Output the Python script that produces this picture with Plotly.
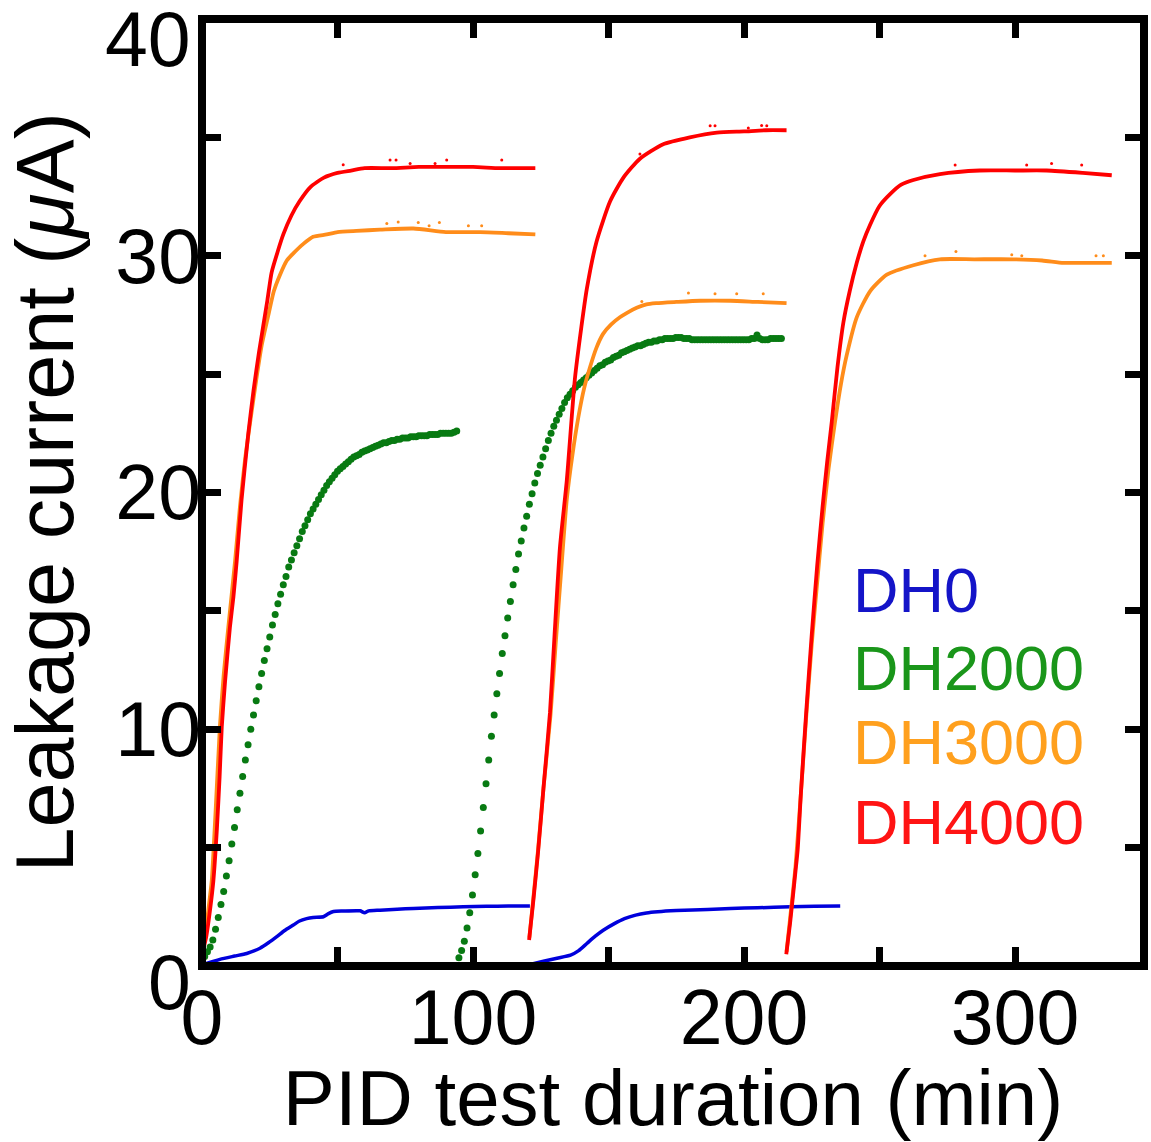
import plotly.graph_objects as go

# ---------------- data ----------------
# DH0 (blue)
dh0_x1 = [0, 6.6, 12, 16.5, 21.4, 24.5, 27.6, 30.5, 33.7, 36, 38.6, 41, 44.8, 46.5, 48.5, 52, 58.3, 60, 61.5, 65.7, 72, 78, 87, 96.4, 105, 113, 121]
dh0_y1 = [0.05, 0.28, 0.42, 0.53, 0.75, 0.98, 1.24, 1.5, 1.73, 1.9, 2.0, 2.05, 2.08, 2.2, 2.3, 2.32, 2.33, 2.25, 2.33, 2.36, 2.4, 2.43, 2.47, 2.5, 2.52, 2.53, 2.53]
dh0_x2 = [120.7, 126, 131, 136, 139, 142, 145, 148.2, 152, 155.9, 160, 164, 168.2, 175, 181, 186.6, 195, 205, 217.2, 226, 235.5]
dh0_y2 = [0.05, 0.2, 0.33, 0.46, 0.65, 0.95, 1.25, 1.52, 1.78, 2.0, 2.15, 2.24, 2.29, 2.34, 2.37, 2.39, 2.43, 2.46, 2.5, 2.52, 2.53]

# DH2000 (green dots, one reading per minute)
dh2000_t1_start = 0.0
dh2000_y1 = [0.2, 0.4, 0.6, 0.8, 1.1, 1.55, 2.05, 2.6, 3.15, 3.8,
             4.45, 5.15, 5.85, 6.6, 7.3, 8.0, 8.7, 9.35, 10.0, 10.6,
             11.2, 11.8, 12.35, 12.9, 13.4, 13.9, 14.4, 14.85, 15.3, 15.7,
             16.1, 16.45, 16.85, 17.15, 17.45, 17.75, 18.05, 18.35, 18.6, 18.85,
             19.1, 19.3, 19.5, 19.7, 19.9, 20.1, 20.3, 20.45, 20.6, 20.75,
             20.9, 21.0, 21.1, 21.2, 21.3, 21.4, 21.5, 21.55, 21.6, 21.7,
             21.75, 21.8, 21.85, 21.9, 21.95, 22.0, 22.05, 22.1, 22.1, 22.15,
             22.2, 22.2, 22.25, 22.25, 22.3, 22.3, 22.3, 22.35, 22.35, 22.35,
             22.4, 22.4, 22.4, 22.4, 22.45, 22.45, 22.45, 22.45, 22.5, 22.5,
             22.5, 22.5, 22.5, 22.55, 22.6]
dh2000_t2_start = 94.8
dh2000_y2 = [0.35, 0.65, 1.05, 1.6, 2.25, 3.0, 3.85, 4.75, 5.7, 6.7,
             7.7, 8.7, 9.7, 10.6, 11.5, 12.35, 13.2, 13.95, 14.7, 15.4,
             16.1, 16.75, 17.4, 17.95, 18.5, 19.0, 19.5, 19.95, 20.4, 20.8,
             21.15, 21.5, 21.85, 22.2, 22.5, 22.8, 23.05, 23.3, 23.55, 23.8,
             24.0, 24.15, 24.3, 24.45, 24.55, 24.65, 24.75, 24.85, 24.95, 25.05,
             25.15, 25.25, 25.35, 25.4, 25.5, 25.55, 25.6, 25.7, 25.75, 25.8,
             25.9, 25.95, 26.0, 26.05, 26.1, 26.15, 26.2, 26.2, 26.25, 26.3,
             26.35, 26.35, 26.4, 26.4, 26.45, 26.45, 26.5, 26.5, 26.5, 26.5,
             26.55, 26.55, 26.55, 26.5, 26.5, 26.5, 26.45, 26.45, 26.45, 26.45,
             26.45, 26.45, 26.45, 26.45, 26.45, 26.45, 26.45, 26.45, 26.45, 26.45,
             26.45, 26.45, 26.45, 26.45, 26.45, 26.45, 26.45, 26.45, 26.5, 26.5,
             26.65, 26.5, 26.45, 26.45, 26.45, 26.5, 26.5, 26.5, 26.5, 26.5]

# DH3000 (orange)
dh3000_x1 = [0, 1.5, 3, 3.6, 5, 6.6, 8, 9.7, 12.2, 14, 16, 18.3, 20.2, 22, 24.7, 26.5, 28.8, 31.3, 33.7, 37.4, 41, 46, 50, 57, 65.7, 78, 90, 102.6, 113, 123]
dh3000_y1 = [0.6, 1.6, 3.0, 3.6, 6.5, 10.1, 12.3, 14.3, 17.1, 19.4, 21.5, 23.4, 24.9, 26.2, 27.6, 28.5, 29.2, 29.8, 30.1, 30.5, 30.8, 30.9, 31.0, 31.05, 31.1, 31.15, 31.0, 31.0, 30.95, 30.9]
dh3000_x2 = [120.8, 122.3, 124, 126, 128.6, 130.5, 132.6, 134.6, 136.7, 138.9, 141, 143.2, 145.5, 148, 151, 154.2, 157, 160.4, 164, 167.7, 175, 183.8, 195, 205, 215.7]
dh3000_y2 = [1.2, 2.9, 4.9, 7.5, 10.6, 13.6, 16.8, 19.7, 21.6, 23.2, 24.4, 25.3, 26.1, 26.7, 27.1, 27.4, 27.6, 27.8, 27.95, 28.0, 28.05, 28.1, 28.1, 28.05, 28.0]
dh3000_x3 = [215.7, 217, 219, 221, 223, 225, 227, 229, 231.2, 233.6, 235.8, 237.9, 241.6, 246.5, 252.7, 262.5, 272.3, 285, 299.4, 310, 317.9, 327, 335.7]
dh3000_y3 = [0.6, 2.0, 4.2, 7.3, 10.6, 13.6, 16.2, 18.7, 21.0, 23.0, 24.6, 25.8, 27.4, 28.5, 29.2, 29.6, 29.85, 29.85, 29.85, 29.8, 29.7, 29.7, 29.7]
dh3000_noise_x = [68.2, 72.4, 79.8, 83.8, 87.6, 98.3, 103.2, 162.3, 179.5, 189.3, 197.3, 207.1, 266.8, 278.2, 298.8, 302.5, 329.9, 332.6]
dh3000_noise_y = [31.36, 31.43, 31.4, 31.27, 31.4, 31.27, 31.27, 28.07, 28.43, 28.4, 28.4, 28.4, 30.0, 30.18, 30.04, 30.0, 30.0, 30.0]

# DH4000 (red)
dh4000_x1 = [0, 1.5, 3, 4.2, 5.5, 6.5, 7.3, 8.5, 10.3, 11.6, 12.8, 14.6, 17.1, 19, 21, 24.1, 25.7, 28, 30, 33, 36, 40, 45, 50, 55, 60, 70, 80, 90, 100, 110, 123]
dh4000_y1 = [0.5, 1.2, 2.4, 3.6, 5.8, 8.0, 10.1, 12.0, 14.3, 15.6, 17.1, 19.7, 22.5, 24.3, 25.9, 28.1, 29.3, 30.2, 30.9, 31.7, 32.3, 32.9, 33.3, 33.5, 33.6, 33.7, 33.7, 33.75, 33.75, 33.75, 33.7, 33.7]
dh4000_x2 = [120.7, 122.3, 124, 126, 128.4, 130, 132.1, 134.6, 137.6, 140, 142, 145.6, 150.6, 155.5, 161.6, 170, 180, 190, 200, 208, 215.7]
dh4000_y2 = [1.1, 2.8, 4.8, 7.5, 10.7, 13.8, 17.7, 20.5, 24.8, 27.0, 28.6, 30.6, 32.3, 33.3, 34.1, 34.7, 35.0, 35.2, 35.25, 35.3, 35.3]
dh4000_x3 = [215.6, 217, 219, 219.8, 221, 223, 225, 227, 229, 230.7, 232.4, 234.5, 236.7, 239, 241.6, 244, 246.5, 250, 253.9, 258, 262.5, 272.3, 287, 300, 311.7, 325, 335.7]
dh4000_y3 = [0.5, 1.8, 4.0, 4.9, 7.3, 10.8, 14.0, 16.9, 19.4, 21.3, 23.0, 25.3, 27.2, 28.5, 29.7, 30.6, 31.3, 32.1, 32.6, 33.0, 33.2, 33.45, 33.6, 33.6, 33.6, 33.5, 33.4]
dh4000_noise_x = [52.1, 69.4, 71.6, 76.8, 86.0, 90.3, 110.6, 161.6, 187.5, 189.3, 201.6, 206.5, 208.4, 277.9, 304.3, 313.5, 324.6, 335.8]
dh4000_noise_y = [33.84, 34.04, 34.04, 33.9, 33.9, 34.04, 34.04, 34.3, 35.49, 35.49, 35.4, 35.5, 35.49, 33.83, 33.83, 33.9, 33.83, 0.1]

legend_labels = ["DH0", "DH2000", "DH3000", "DH4000"]
legend_colors = ["#1414C8", "#1A961A", "#FFA01E", "#FF1414"]
legend_y = [15.9, 12.6, 9.45, 6.1]

x_tickvals = [0, 50, 100, 150, 200, 250, 300]
x_ticktext = ["0", "", "100", "", "200", "", "300"]
y_tickvals = [0, 5, 10, 15, 20, 25, 30, 35, 40]
y_ticktext = ["", "", "10", "", "20", "", "30", "", ""]
y_edge_labels = [0, 40]

FONT = "Liberation Sans, Arial, sans-serif"
TICK_SIZE = 77


def join(*segs):
    xs, ys = [], []
    for i, (sx, sy) in enumerate(segs):
        if i:
            xs.append(None)
            ys.append(None)
        xs.extend(sx)
        ys.extend(sy)
    return xs, ys


fig = go.Figure()

bx, by = join((dh0_x1, dh0_y1), (dh0_x2, dh0_y2))
fig.add_trace(go.Scatter(x=bx, y=by, mode="lines",
                         line=dict(color="#0000DC", width=3.5, shape="spline", smoothing=0.6),
                         name="DH0", connectgaps=False))

gx1 = [dh2000_t1_start + i for i in range(len(dh2000_y1))]
gx2 = [dh2000_t2_start + i for i in range(len(dh2000_y2))]
gx, gy = join((gx1, dh2000_y1), (gx2, dh2000_y2))
fig.add_trace(go.Scatter(x=gx, y=gy, mode="markers",
                         marker=dict(color="#087A12", size=7, line=dict(width=0)),
                         name="DH2000"))

ox, oy = join((dh3000_x1, dh3000_y1), (dh3000_x2, dh3000_y2), (dh3000_x3, dh3000_y3))
fig.add_trace(go.Scatter(x=ox, y=oy, mode="lines",
                         line=dict(color="#FF8C1A", width=3.8, shape="spline", smoothing=0.6),
                         name="DH3000", connectgaps=False))
fig.add_trace(go.Scatter(x=dh3000_noise_x, y=dh3000_noise_y, mode="markers",
                         marker=dict(color="#FF8C1A", size=3), showlegend=False))

rx, ry = join((dh4000_x1, dh4000_y1), (dh4000_x2, dh4000_y2), (dh4000_x3, dh4000_y3))
fig.add_trace(go.Scatter(x=rx, y=ry, mode="lines",
                         line=dict(color="#FF0000", width=3.8, shape="spline", smoothing=0.6),
                         name="DH4000", connectgaps=False))
fig.add_trace(go.Scatter(x=dh4000_noise_x, y=dh4000_noise_y, mode="markers",
                         marker=dict(color="#FF0000", size=3), showlegend=False))

annotations = []
for lab, col, yv in zip(legend_labels, legend_colors, legend_y):
    annotations.append(dict(x=239.5, y=yv, xref="x", yref="y", text=lab, showarrow=False,
                            xanchor="left", yanchor="middle",
                            font=dict(family=FONT, size=63, color=col)))
for v, shift in zip(y_edge_labels, [-16, -20]):
    annotations.append(dict(x=0, y=v, xref="paper", yref="y", text=str(v), showarrow=False,
                            xanchor="right", yanchor="middle", xshift=-9, yshift=shift,
                            font=dict(family=FONT, size=TICK_SIZE, color="black")))

fig.update_layout(
    width=1151, height=1142,
    margin=dict(l=202, r=7, t=19, b=176),
    paper_bgcolor="white", plot_bgcolor="white",
    showlegend=False,
    font=dict(family=FONT, color="black"),
    annotations=annotations,
    shapes=[dict(type="rect", xref="paper", yref="paper", x0=0, y0=0, x1=1, y1=1,
                 line=dict(color="black", width=8), layer="above")],
)
fig.update_xaxes(
    range=[0, 347.6], showgrid=False, zeroline=False, showline=False,
    ticks="inside", ticklen=19, tickwidth=7, tickcolor="black", mirror="allticks",
    tickvals=x_tickvals, ticktext=x_ticktext,
    tickfont=dict(family=FONT, size=TICK_SIZE, color="black"),
    title=dict(text="PID test duration (min)", font=dict(family=FONT, size=78, color="black"), standoff=8),
    automargin=False,
)
fig.update_yaxes(
    range=[0, 40], showgrid=False, zeroline=False, showline=False,
    ticks="inside", ticklen=19, tickwidth=7, tickcolor="black", mirror="allticks",
    tickvals=y_tickvals, ticktext=y_ticktext,
    tickfont=dict(family=FONT, size=TICK_SIZE, color="black"),
    title=dict(text="Leakage current (<i>μ</i>A)", font=dict(family=FONT, size=81, color="black"), standoff=16),
    automargin=False,
)

fig.write_html("out.html")
